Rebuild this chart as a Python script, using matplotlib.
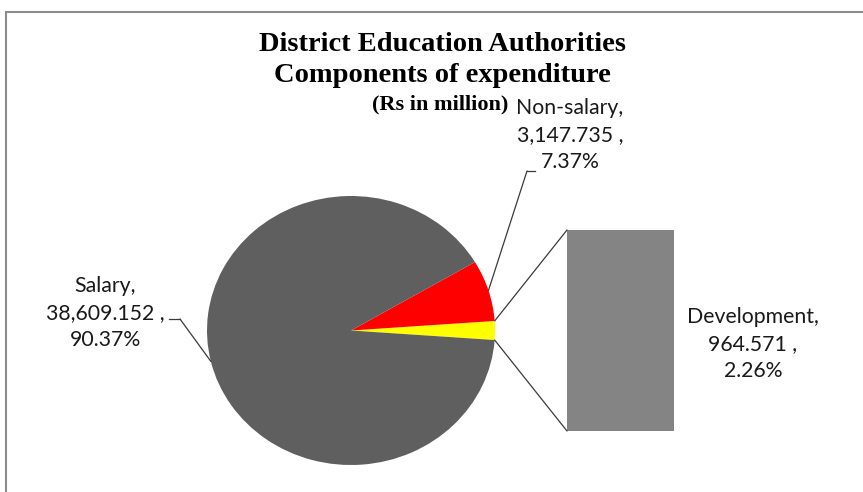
import numpy as np
import matplotlib
matplotlib.use('Agg')
import matplotlib.pyplot as plt
from matplotlib.patches import ConnectionPatch

# data
categories = ['Development', 'Non-salary', 'Salary']
values = [964.571, 3147.735, 38609.152]
colors = ['#FFFF00', '#FF0000', '#5F5F5F']
bar_color = '#848484'

title = 'District Education Authorities\nComponents of expenditure'
subtitle = '(Rs in million)'

total = sum(values)
pcts = [v / total * 100 for v in values]

W, H = 863, 492
fig = plt.figure(figsize=(W / 100, H / 100), dpi=100)

# base axes in pixel units (y up) for labels and frame
ax = fig.add_axes([0, 0, 1, 1])
ax.set_xlim(0, W)
ax.set_ylim(0, H)
ax.axis('off')

# pie axes (slightly wider than tall, like the source)
ax_pie = fig.add_axes([207 / W, 27 / H, 288 / W, 269 / H])
start = -360 * values[0] / total / 2
wedges, _ = ax_pie.pie(values, colors=colors, startangle=start,
                       radius=1, frame=True, wedgeprops=dict(linewidth=0))
ax_pie.set_xlim(-1, 1)
ax_pie.set_ylim(-1, 1)
ax_pie.set_aspect('auto')
ax_pie.axis('off')

# bar for the split slice
ax_bar = fig.add_axes([567 / W, 61 / H, 107 / W, 201 / H])
ax_bar.bar([0], [values[0]], width=1, color=bar_color)
ax_bar.set_xlim(-0.5, 0.5)
ax_bar.set_ylim(0, values[0])
ax_bar.axis('off')


def edge(theta):
    t = np.radians(theta)
    return np.cos(t), np.sin(t)


line_kw = dict(color='#3A3A3A', lw=0.9)

# connector lines pie -> bar
for theta, yb in [(wedges[0].theta2, values[0]), (wedges[0].theta1, 0)]:
    fig.add_artist(ConnectionPatch(xyA=edge(theta), coordsA=ax_pie.transData,
                                   xyB=(-0.5, yb), coordsB=ax_bar.transData,
                                   **line_kw))


def label_text(i):
    return f'{categories[i]},\n{values[i]:,.3f} ,\n{pcts[i]:.2f}%'


lab_font = dict(family=['Lato', 'DejaVu Sans'], fontsize=15.3, color='#1A1A1A',
                ha='center', va='center', linespacing=1.42)


def leader(i, elbow, end):
    mid = (wedges[i].theta1 + wedges[i].theta2) / 2
    fig.add_artist(ConnectionPatch(xyA=edge(mid), coordsA=ax_pie.transData,
                                   xyB=elbow, coordsB=ax.transData, **line_kw))
    ax.plot([elbow[0], end[0]], [elbow[1], end[1]], **line_kw)


# Non-salary
ax.text(570, 357, label_text(1), **lab_font)
leader(1, (527, 321), (535, 321))

# Salary
ax.text(105, 179, label_text(2), **lab_font)
leader(2, (180, 173), (169, 173))

# Development, next to the bar
ax.text(753, 148, label_text(0), **lab_font)

# title
ax.text(442, 432, title, family='Liberation Serif', fontweight='bold',
        fontsize=20.5, ha='center', va='center', linespacing=1.36)
ax.text(440, 388, subtitle, family='Liberation Serif', fontweight='bold',
        fontsize=16, ha='center', va='center')

# chart frame (top and left edges visible)
ax.plot([5.5, 5.5, W], [0, 480.5, 480.5], color='#8C8C8C', lw=1.5,
        solid_joinstyle='miter')

fig.savefig('out.png', dpi=100)
